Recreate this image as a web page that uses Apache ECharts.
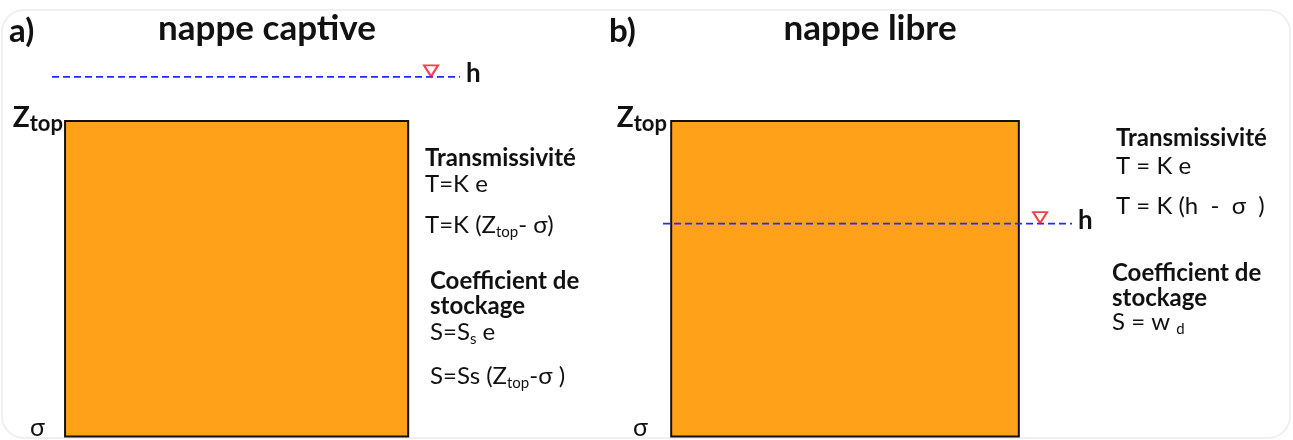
<!DOCTYPE html>
<html>
<head>
<meta charset="utf-8">
<script src="https://cdn.jsdelivr.net/npm/echarts@6/dist/echarts.min.js"></script>
<style>html,body{margin:0;padding:0;background:#fff;}#c{width:1293px;height:440px;}</style>
</head>
<body>
<div id="c"></div>
<script>
// ---- data (axis units: x = horizontal extent, y = elevation, sigma = 0) ----
const panelTitles = ['nappe captive', 'nappe libre'];
const panelLetters = ['a)', 'b)'];
const sigma = 0;
const zTop = 10;
const headValues = [11.4, 6.75];          // h: captive above top, libre inside aquifer
const aquiferX = [[0.32, 8.73], [0.2, 8.7]];   // aquifer left / right
const headLineX = [[0, 10], [0, 10]];     // dashed piezometric line extent
const markerX = [9.29, 9.22];             // inverted triangle position
const yTickLabels = { 0: 'σ', 10: 'Z_top' };

const FONT = 'Lato, "Open Sans", sans-serif';
const orange = '#FFA21A';

function yLabelFormatter(v) {
  if (v === zTop) return '{z|Z}{t|top}';
  if (v === sigma) return '{s|σ}';
  return '';
}

function makeRich(sigPad) {
  return {
    z: { fontSize: 28, fontWeight: 'bold', color: '#111', fontFamily: FONT, padding: [0, 0, 6, 0] },
    t: { fontSize: 22, fontWeight: 'bold', color: '#111', fontFamily: FONT, padding: [6, 0, 0, 0] },
    s: { fontSize: 25, color: '#111', fontFamily: FONT, padding: [0, sigPad, 18, 0] }
  };
}

const grids = [
  { left: 52, width: 408, top: 58, height: 380 },
  { left: 663, width: 409, top: 58, height: 380 }
];
const labelMargins = [-11, -4];
const sigmaPads = [18, 19];

const xAxes = grids.map((g, i) => ({
  type: 'value', gridIndex: i, min: 0, max: 10, show: false
}));
const yAxes = grids.map((g, i) => ({
  type: 'value', gridIndex: i, min: 0, max: 12, interval: 2,
  axisLine: { show: false }, axisTick: { show: false }, splitLine: { show: false },
  axisLabel: {
    show: true, margin: labelMargins[i], formatter: yLabelFormatter,
    showMinLabel: true, showMaxLabel: true, rich: makeRich(sigmaPads[i])
  }
}));

const series = [];
for (let i = 0; i < 2; i++) {
  series.push({
    type: 'custom', xAxisIndex: i, yAxisIndex: i, silent: true, z: 1,
    data: [[aquiferX[i][0], aquiferX[i][1], sigma, zTop]],
    renderItem: function (params, api) {
      const p0 = api.coord([api.value(0), api.value(3)]);
      const p1 = api.coord([api.value(1), api.value(2)]);
      return {
        type: 'rect',
        shape: { x: p0[0], y: p0[1], width: p1[0] - p0[0], height: p1[1] - p0[1] },
        style: { fill: orange, stroke: '#111', lineWidth: 2 }
      };
    }
  });
  series.push({
    type: 'line', xAxisIndex: i, yAxisIndex: i, silent: true, z: 3,
    symbol: 'none', clip: false,
    lineStyle: { color: '#1f2cff', width: 1.8, type: [7, 4] },
    endLabel: { show: true, formatter: 'h', distance: 6,
      fontSize: 26, fontWeight: 'bold', color: '#111', fontFamily: FONT, offset: [0, -3] },
    data: [[headLineX[i][0], headValues[i]], [headLineX[i][1], headValues[i]]]
  });
  series.push({
    type: 'scatter', xAxisIndex: i, yAxisIndex: i, silent: true, z: 4,
    symbol: 'triangle', symbolRotate: 180, symbolSize: [14, 11], symbolOffset: [0, -6],
    itemStyle: { color: '#fff', borderColor: '#f01020', borderWidth: 2 },
    data: [[markerX[i], headValues[i]]]
  });
}

function txt(x, y, text, bold, rich) {
  return {
    type: 'text', x: x, y: y, z: 10, silent: true,
    style: {
      text: text, fontFamily: FONT, fontSize: 24, fontWeight: bold ? 'bold' : 'normal',
      fill: '#111', verticalAlign: 'middle', align: 'left', rich: rich || undefined
    }
  };
}
const subRich = {
  sub: { fontSize: 15, fontFamily: FONT, color: '#111', padding: [14, 0, 0, 0] },
  n: { fontSize: 24, fontFamily: FONT, color: '#111' }
};

const graphic = [
  { type: 'rect', z: 0, silent: true, shape: { x: 2, y: 10, width: 1288, height: 428, r: 22 },
    style: { fill: 'none', stroke: '#ececec', lineWidth: 1.5 } },
  { type: 'text', x: 9, y: 31, style: { text: panelLetters[0], fontFamily: FONT, fontSize: 33, fontWeight: 'bold', fill: '#111', verticalAlign: 'middle' } },
  { type: 'text', x: 267, y: 29, style: { text: panelTitles[0], fontFamily: FONT, fontSize: 35, fontWeight: 'bold', fill: '#111', verticalAlign: 'middle', align: 'center' } },
  { type: 'text', x: 609, y: 31, style: { text: panelLetters[1], fontFamily: FONT, fontSize: 33, fontWeight: 'bold', fill: '#111', verticalAlign: 'middle' } },
  { type: 'text', x: 870, y: 29, style: { text: panelTitles[1], fontFamily: FONT, fontSize: 35, fontWeight: 'bold', fill: '#111', verticalAlign: 'middle', align: 'center' } },

  txt(425, 158, 'Transmissivité', true),
  txt(425, 184, 'T=K e', false),
  txt(425, 225, '{n|T=K (Z}{sub|top}{n|- σ)}', false, subRich),
  txt(430, 281, 'Coefficient de', true),
  txt(430, 306, 'stockage', true),
  txt(430, 332, '{n|S=S}{sub|s}{n| e}', false, subRich),
  txt(430, 376, '{n|S=Ss (Z}{sub|top}{n|-σ )}', false, subRich),

  txt(1116, 138, 'Transmissivité', true),
  txt(1116, 166, 'T = K e', false),
  txt(1116, 206, 'T = K (h  -  σ  )', false),
  txt(1112, 273, 'Coefficient de', true),
  txt(1112, 298, 'stockage', true),
  txt(1112, 322, '{n|S = w }{sub|d}', false, subRich)
];

const chart = echarts.init(document.getElementById('c'));
chart.setOption({
  animation: false,
  backgroundColor: '#fff',
  grid: grids,
  xAxis: xAxes,
  yAxis: yAxes,
  series: series,
  graphic: graphic
});
</script>
</body>
</html>
